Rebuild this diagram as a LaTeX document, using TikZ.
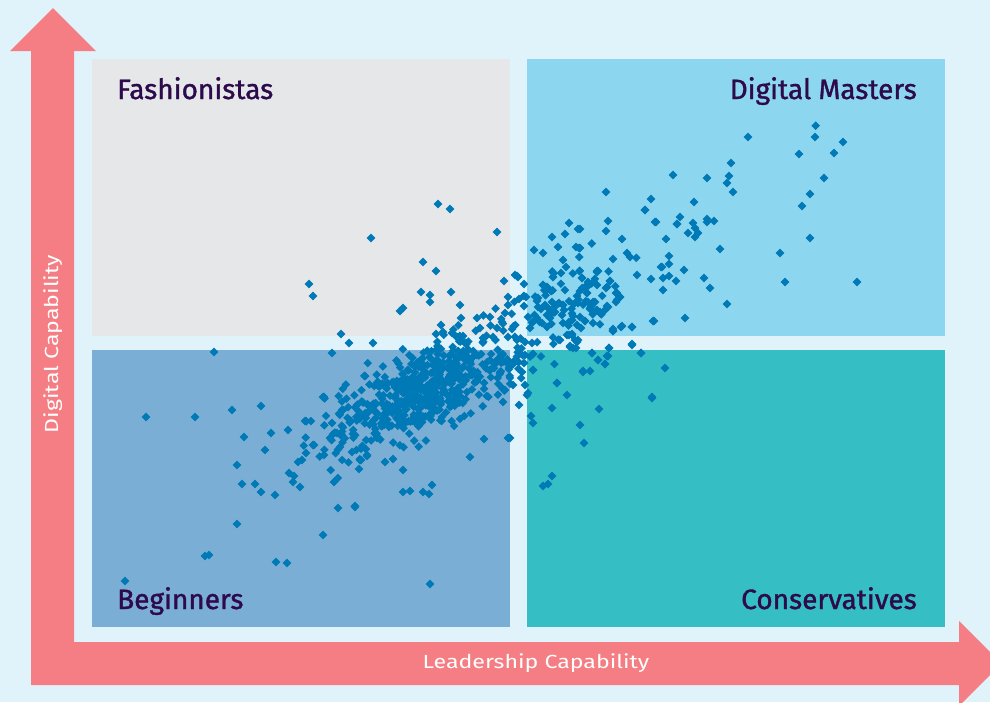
\documentclass[tikz,border=0pt]{standalone}
\usepackage{fontspec}
\setmainfont{Fira Sans}
\newfontfamily\titlefont[FakeBold=1.2]{Fira Sans}
\newfontfamily\axisfont[FakeStretch=1.22]{Fira Sans}
\definecolor{bgc}{RGB}{224,243,250}
\definecolor{arrc}{RGB}{244,126,131}
\definecolor{fashc}{RGB}{229,231,233}
\definecolor{mastc}{RGB}{141,214,239}
\definecolor{begc}{RGB}{123,174,212}
\definecolor{consc}{RGB}{53,190,195}
\definecolor{dotc}{RGB}{0,121,183}
\definecolor{titc}{RGB}{45,10,75}
\tikzset{
  quad/.style={draw=none,inner sep=0pt,minimum width=418pt,minimum height=277pt,anchor=north west},
  qtitle/.style={text=titc,font=\titlefont\fontsize{28}{32}\selectfont,inner sep=0pt},
  axlabel/.style={text=white,font=\axisfont\fontsize{19}{22}\selectfont,inner sep=0pt},
  dotmark/.style={fill=dotc}
}
\newcommand\dmd[2]{\fill[dotmark] (#1,#2) ++(-4.3,0) -- ++(4.3,4.3) -- ++(4.3,-4.3) -- ++(-4.3,-4.3) -- cycle;}
\begin{document}
\begin{tikzpicture}[x=1pt,y=-1pt]
\useasboundingbox (0,0) rectangle (990,702);
\fill[bgc] (0,0) rectangle (990,702);
\begin{scope}
\clip (0,0) rectangle (990,702);
\fill[arrc] (31,685) -- (31,51) -- (10,51) -- (53,8) -- (96,51) -- (74,51) -- (74,642)
  -- (959,642) -- (959,621) -- (1001.5,663.5) -- (959,706) -- (959,685) -- cycle;
\end{scope}
\node[quad,fill=fashc] (fash) at (92,59) {};
\node[quad,fill=mastc] (mast) at (527,59) {};
\node[quad,fill=begc] (beg) at (92,350) {};
\node[quad,fill=consc] (cons) at (527,350) {};
\node[qtitle,anchor=base west] (tfash) at (117,99) {Fashionistas};
\node[qtitle,anchor=base east] (tmast) at (917,99) {Digital Masters};
\node[qtitle,anchor=base west] (tbeg) at (117,609) {Beginners};
\node[qtitle,anchor=base east] (tcons) at (917,609) {Conservatives};
\node[axlabel] (lx) at (536,663) {Leadership Capability};
\node[axlabel,rotate=90] (ly) at (53,344) {Digital Capability};
% random dense cluster
\pgfmathsetseed{11}
\foreach \i in {1,...,540}{
  \pgfmathsetmacro{\a}{(rand+rand+rand)*50}
  \pgfmathsetmacro{\b}{(rand+rand+rand)*19}
  \pgfmathsetmacro{\px}{420+0.91*\a+0.42*\b}
  \pgfmathsetmacro{\py}{394-0.42*\a+0.91*\b}
  \dmd{\px}{\py}
}
\foreach \i in {1,...,60}{
  \pgfmathsetmacro{\a}{(rand+rand+rand)*38}
  \pgfmathsetmacro{\b}{(rand+rand+rand)*16}
  \pgfmathsetmacro{\px}{548+0.85*\a+0.53*\b}
  \pgfmathsetmacro{\py}{310-0.53*\a+0.85*\b}
  \dmd{\px}{\py}
}
% explicit points
\foreach \x/\y in {815.7/125.7,815/137,843/142,748/137,799/154,834/153,731/163,673/175,707/178,729/176,727/183,824/178,733/192,606/192,651/199,810/194,694/202,802/206,645/210,680/217,656/222,608/221,677/224,707/219,707/222,714/221,693/223,695/228,688/233,698/233,695/237,606/231,622/239,666/239,720/249,810/238,780/253,580/248,580/229,627/253,630/257,613/259,669/256,669/264,661/267,684/270,637/275,651/279,663/278,669/276,676/281,704/278,710/288,785/282,857/282,663/290,598/271,597/272,582/278,588/282,585/287,587/293,597/285,606/288,610/281,616/293,620/297,617/300,595/302,590/309,600/312,607/306,605/310,727/304,654/321,685/318,585/321,622/326,632/327,613/329,
438/204,450/209,497/232,569/223,578/229,565/234,552/237,558/247,576/247,579/248,534/250,543/253,563/260,566/267,561/273,423/262,436/271,504/281,515/275,518/277,524/284,553/277,582/278,597/271,421/292,430/295,430/302,451/292,460/305,400/311,403/308,508/297,508/305,519/299,526/297,524/306,538/298,537/301,543/285,547/287,552/302,563/305,545/305,541/309,549/309,577/296,574/304,587/287,587/293,593/302,590/308,597/310,608/307,
653/321,632/327,621/327,613/331,632/344,641/353,665/368,609/348,608/356,598/360,605/364,592/353,583/372,590/371,557/383,533/354,533/370,560/340,570/347,577/342,573/348,662/267,655/222,677/224,645/210,610/281,607/287,620/297,617/293,616/302,
537/298,547/287,543/285,553/277,563/305,559/303,564/310,569/322,563/323,573/316,577/325,581/328,572/334,567/335,575/340,578/340,542/323,547/327,537/318,533/322,528/317,530/328,538/307,547/315,550/318,555/312,562/315,578/303,588/302,600/313,593/323,580/317,585/321,
461/318,477/318,490/317,502/322,441/325,443/332,452/333,463/336,457/337,436/334,480/328,483/338,497/328,508/337,493/337,505/313,517/276,
371/238,309/284,313/296,341/334,349/343,373/343,214/352,332/353,
146/417,195/417,232/410,261/406,324/397,244/437,271/433,288/430,305/421,265/450,237/465,314/445,306/453,324/455,302/460,298/462,289/473,294/476,293/482,300/487,242/484,255/484,261/492,275/495,334/482,338/508,355/507,237/524,323/535,205/556,209/555,276/562,287/563,125/581,359/469,385/462,393/459,361/460,367/455,332/423,343/410,352/452,340/447,330/438,337/433,
313/445,360/460,367/456,403/470,432/485,403/492,410/491,423/492,429/494,355/506,484/439,508/438,470/457,323/397,430/584,
569/335,572/335,577/341,570/346,576/348,613/331,632/345,609/348,592/353,607/356,598/360,605/364,641/353,583/371,557/383,567/395,652/397,652/398,552/408,599/409,531/416,533/423,580/425,584/443,510/438,552/476,548/484,543/486,519/405,528/393,527/395,533/370,533/354,532/343,525/342,513/385,525/385,522/372,524/363,525/355,505/390,503/402}{
  \dmd{\x}{\y}
}
\end{tikzpicture}
\end{document}
